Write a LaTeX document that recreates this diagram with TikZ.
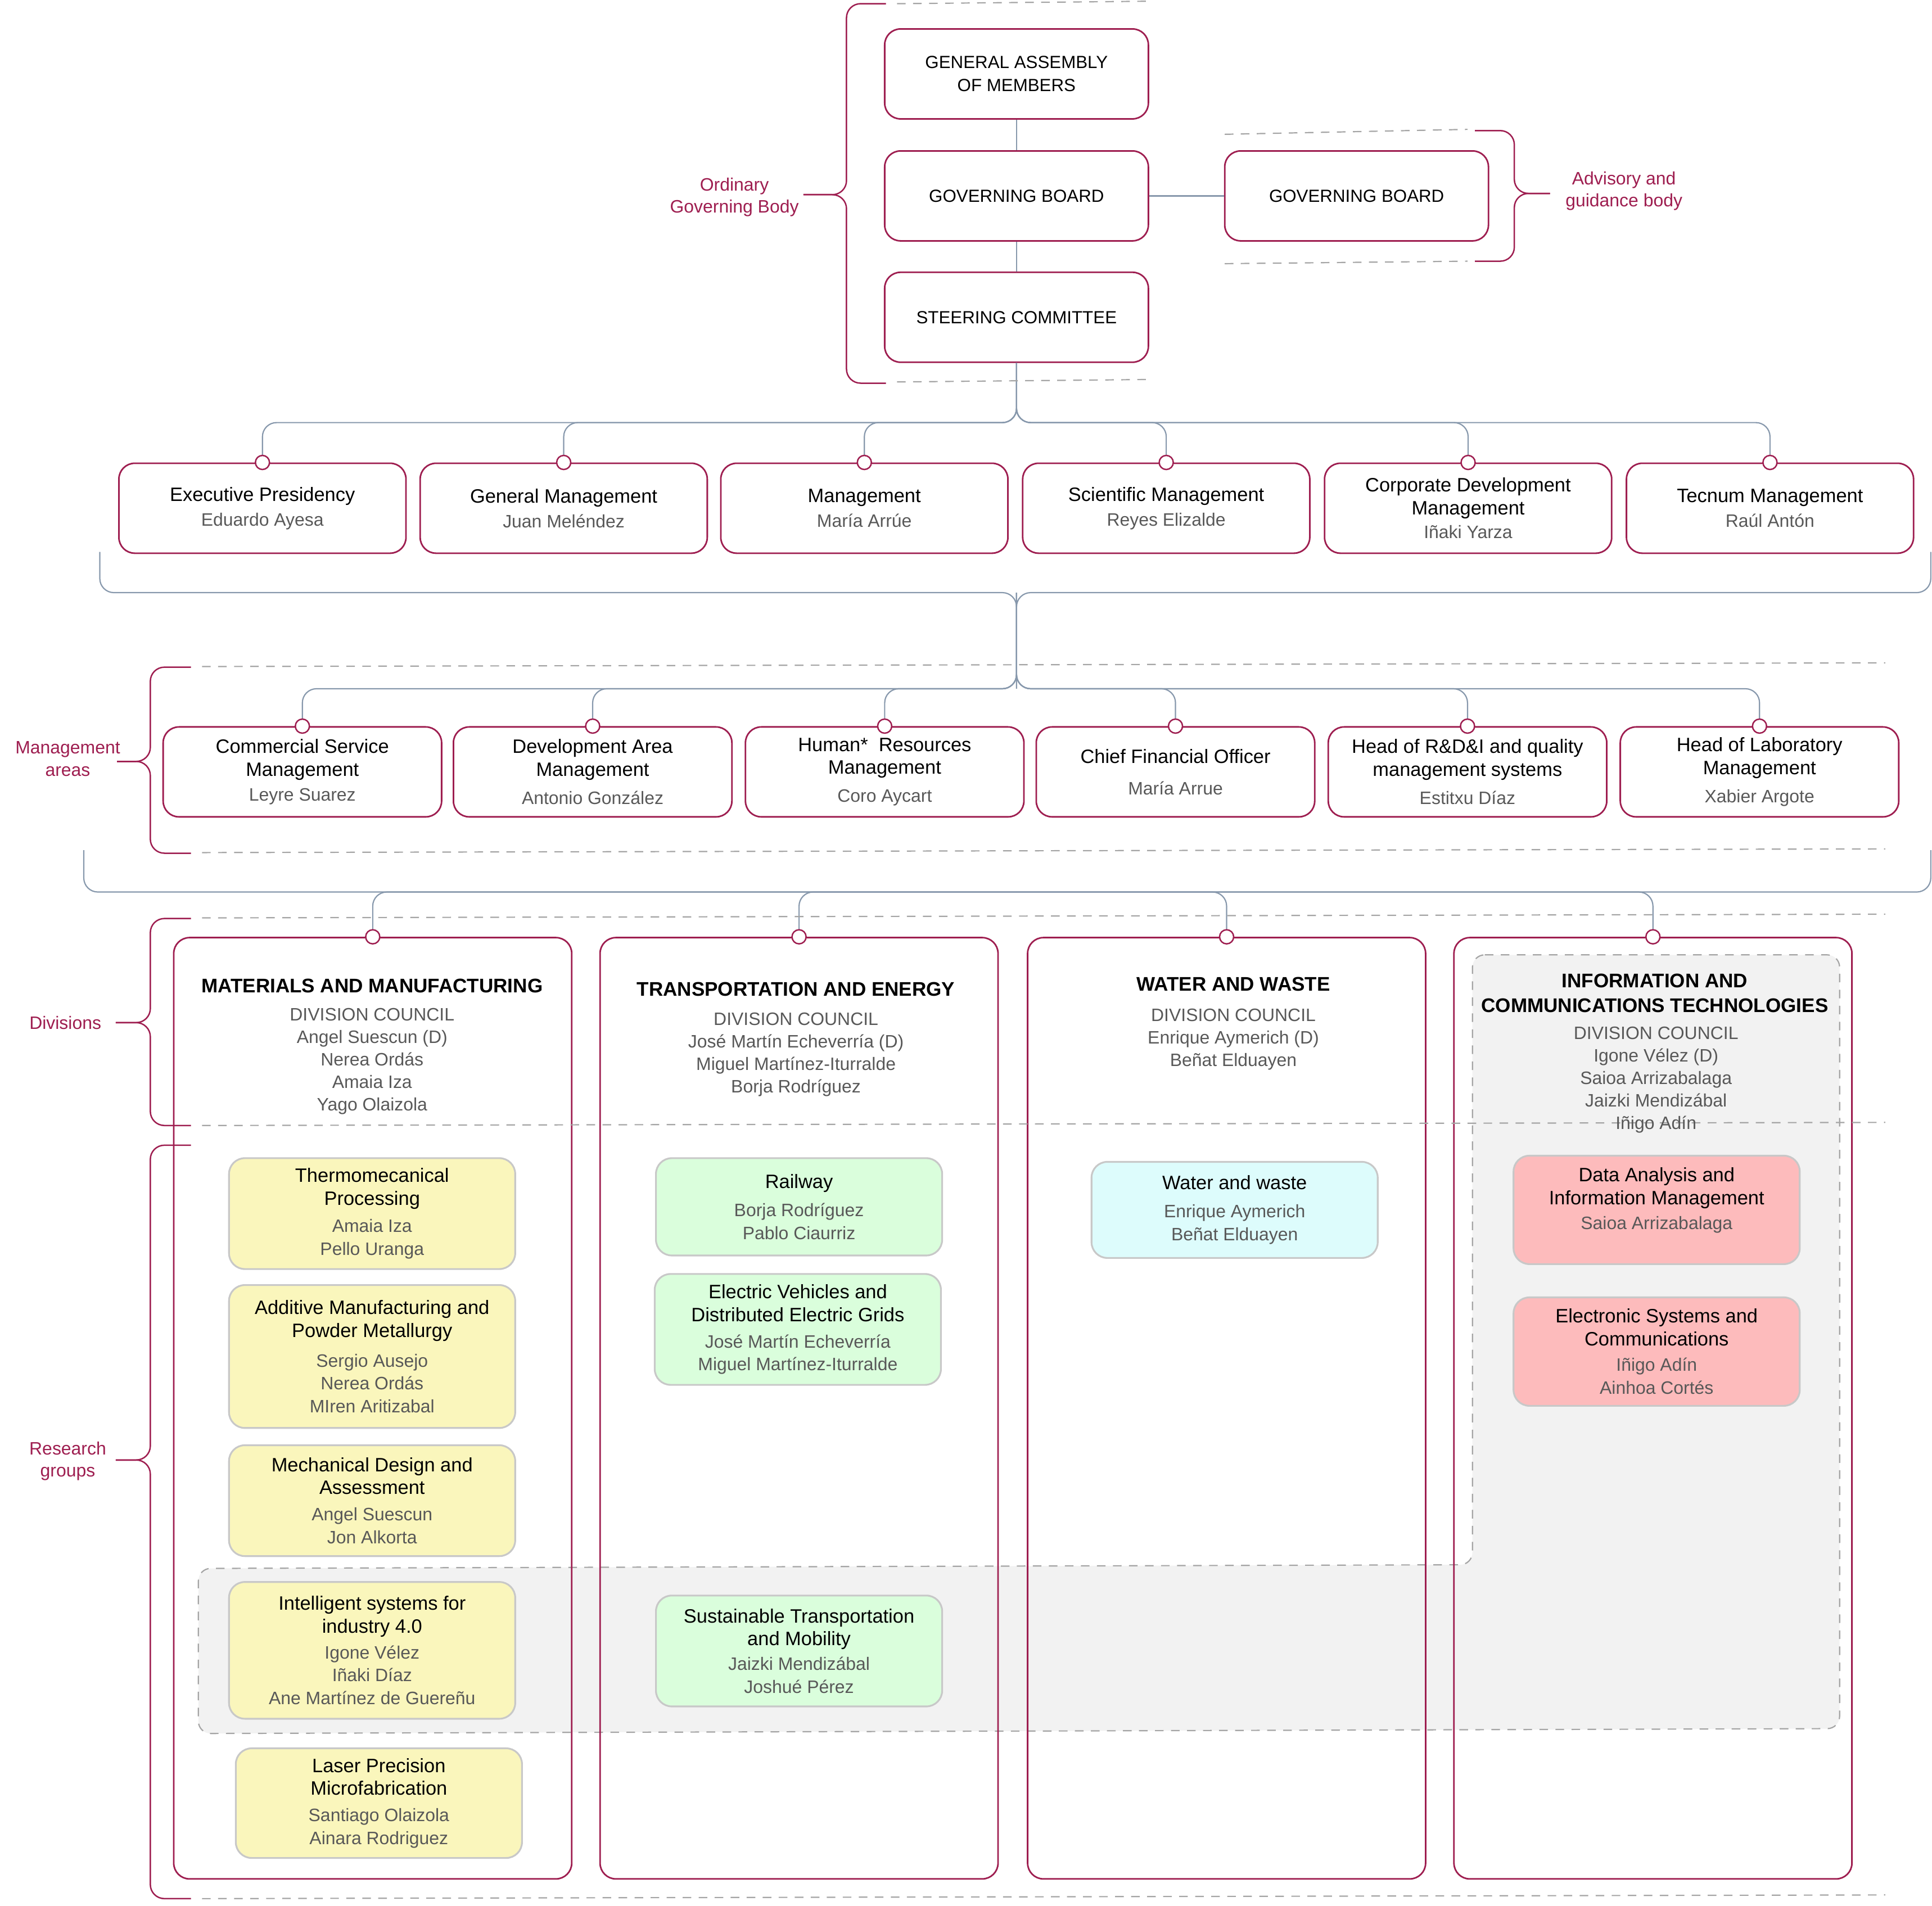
\documentclass[tikz,border=0pt]{standalone}
\usepackage{fontspec}
\setmainfont{Liberation Sans}
\usepackage{tikz}
\usetikzlibrary{positioning}

\definecolor{crimson}{RGB}{158,30,80}
\definecolor{linkgray}{RGB}{135,152,172}
\definecolor{dashgray}{RGB}{165,165,165}
\definecolor{namegray}{RGB}{88,88,88}
\definecolor{boxedge}{RGB}{200,200,200}
\definecolor{mmyellow}{RGB}{250,246,188}
\definecolor{tegreen}{RGB}{218,254,220}
\definecolor{wwcyan}{RGB}{221,252,252}
\definecolor{ictpink}{RGB}{253,187,188}
\definecolor{ictgray}{RGB}{242,242,242}

% names under a title (one per line)
\newcommand{\nm}{\fontsize{10.2}{13}\selectfont\color{namegray}}
% side brace: spine x, arm end x, tip end x, top y, bottom y, tip y
\newcommand{\sidebrace}[6]{%
\draw[Bracket] (#2,#4) -- (#1,#4) -- (#1,#6) -- (#3,#6);
\draw[Bracket] (#2,#5) -- (#1,#5) -- (#1,#6) -- (#3,#6);
}

\begin{document}
\begin{tikzpicture}[
x=0.7pt, y=-0.7pt,
every node/.style={align=center, inner sep=0pt, font=\fontsize{11}{13}\selectfont},
Box/.style={draw=crimson, line width=0.9pt, rounded corners=9pt},
Gov/.style={Box, minimum width=149.8pt, minimum height=51.1pt, font=\fontsize{10}{13}\selectfont},
Mgmt/.style={Box, minimum width=163.1pt, minimum height=51.1pt},
Area/.style={Box, minimum width=158.2pt, minimum height=51.1pt},
Frame/.style={Box, minimum width=226.1pt, minimum height=534.8pt},
Group/.style={draw=boxedge, line width=1pt, rounded corners=9pt, minimum width=162.6pt},
DivTitle/.style={font=\fontsize{11.2}{14}\selectfont\bfseries},
Council/.style={text=namegray, font=\fontsize{10.2}{12.8}\selectfont},
Side/.style={text=crimson, font=\fontsize{10.2}{12.6}\selectfont},
Marker/.style={circle, draw=crimson, fill=white, line width=0.8pt, minimum size=8pt},
Link/.style={draw=linkgray, line width=0.7pt, rounded corners=8pt},
Guide/.style={draw=dashgray, line width=0.7pt, dash pattern=on 4.9pt off 4.2pt},
Bracket/.style={draw=crimson, line width=0.8pt, rounded corners=8pt}
]
\useasboundingbox (0,0) rectangle (1568,1547);

% shared grey band (ICT + industry 4.0)
\path[Guide, fill=ictgray, rounded corners=7pt] (1195,775) -- (1493,775) -- (1493,1403)
  -- (161,1407) -- (161,1273) -- (1195,1270) -- cycle;

% division frames
\node[Frame] (mm) at (302.5,1143) {};
\node[Frame] (te) at (648.5,1143) {};
\node[Frame] (ww) at (995.5,1143) {};
\node[Frame] (ict) at (1341.5,1143) {};

% governing bodies
\node[Gov] (ga) at (825,60) {GENERAL ASSEMBLY\\OF MEMBERS};
\node[Gov] (gb) at (825,159) {GOVERNING BOARD};
\node[Gov] (sc) at (825,257.5) {STEERING COMMITTEE};
\node[Gov] (adv) at (1101,159) {GOVERNING BOARD};

% management
\node[Mgmt] (ep) at (213,412.5) {Executive Presidency\\[1pt]\nm Eduardo Ayesa};
\node[Mgmt] (gm) at (457.5,412.5) {General Management\\[1pt]\nm Juan Meléndez};
\node[Mgmt] (mg) at (701.5,412.5) {Management\\[1pt]\nm María Arrúe};
\node[Mgmt] (sm) at (946.5,412.5) {Scientific Management\\[1pt]\nm Reyes Elizalde};
\node[Mgmt] (cd) at (1191.5,412.5) {Corporate Development\\Management\\[0.5pt]\nm Iñaki Yarza};
\node[Mgmt] (tm) at (1436.5,412.5) {Tecnum Management\\[1pt]\nm Raúl Antón};

% management areas
\node[Area] (cs) at (245.4,626.5) {Commercial Service\\Management\\[1pt]\nm Leyre Suarez};
\node[Area] (da) at (481,626.5) {Development Area\\Management\\[3pt]\nm Antonio González};
\node[Area] (hr) at (718,626.5) {Human*\ \ Resources\\Management\\[3pt]\nm Coro Aycart};
\node[Area] (cf) at (954,626.5) {Chief Financial Officer\\[5pt]\nm María Arrue};
\node[Area] (rd) at (1191,626.5) {Head of R\&D\&I and quality\\management systems\\[3pt]\nm Estitxu Díaz};
\node[Area] (hl) at (1428,626.5) {Head of Laboratory\\Management\\[3pt]\nm Xabier Argote};

% connectors
\coordinate (bar1) at (825,343);
\coordinate (hub1) at (825,481);
\coordinate (bar2) at (825,559);
\coordinate (hub2) at (825,724);
\draw[Link] (ga) -- (gb);
\draw[Link] (gb) -- (sc);
\draw[Link, line width=1.2pt] (gb) -- (adv);
\foreach \n in {ep,gm,mg,sm,cd,tm}
  \draw[Link] (sc.south) -- (bar1) -- (\n.north |- bar1) -- (\n.north);
\draw[Link] (81,448) |- (hub1) -- (bar2);
\draw[Link] (1567,448) |- (hub1) -- (bar2);
\foreach \n in {cs,da,hr,cf,rd,hl}
  \draw[Link] (hub1) -- (bar2) -- (\n.north |- bar2) -- (\n.north);
\draw[Link] (68,690) |- (hub2) -| (1567,690);
\foreach \n in {mm,te,ww,ict}
  \draw[Link] (hub2) -- (\n.north |- hub2) -- (\n.north);
\foreach \n in {ep,gm,mg,sm,cd,tm,cs,da,hr,cf,rd,hl,mm,te,ww,ict}
  \node[Marker] (pin-\n) at (\n.north) {};

% dashed guides
\draw[Guide] (728,3) -- (933,1);
\draw[Guide] (728,310) -- (933,308);
\draw[Guide] (994,109) -- (1191,105);
\draw[Guide] (994,214) -- (1191,212);
\draw[Guide] (164,541) -- (1530,538);
\draw[Guide] (164,692) -- (1530,689);
\draw[Guide] (164,745) -- (1530,742);
\draw[Guide] (164,913.5) -- (1530,911);
\draw[Guide] (164,1541) -- (1530,1538);

% braces
\sidebrace{687}{719}{652}{3}{311}{158}
\sidebrace{1229}{1197}{1258}{106}{212}{157}
\sidebrace{122}{155}{95}{541.5}{692.5}{618}
\sidebrace{122}{155}{94}{745.5}{913.5}{830}
\sidebrace{122}{155}{94}{929.5}{1541}{1185}
\node[Side] (ordlbl) at (596,160) {Ordinary\\Governing Body};
\node[Side] (advlbl) at (1318,155) {Advisory and\\guidance body};
\node[Side] (mgtlbl) at (55,616) {Management\\areas};
\node[Side] (divlbl) at (53,830) {Divisions};
\node[Side] (reslbl) at (55,1186) {Research\\groups};

% division councils
\node[DivTitle] (mmtitle) at (302,800) {MATERIALS AND MANUFACTURING};
\node[Council] (mmcouncil) at (302,861.5) {DIVISION COUNCIL\\Angel Suescun (D)\\Nerea Ordás\\Amaia Iza\\Yago Olaizola};
\node[DivTitle] (tetitle) at (646,803) {TRANSPORTATION AND ENERGY};
\node[Council] (tecouncil) at (646,856) {DIVISION COUNCIL\\José Martín Echeverría (D)\\Miguel Martínez-Iturralde\\Borja Rodríguez};
\node[DivTitle] (wwtitle) at (1001,799) {WATER AND WASTE};
\node[Council] (wwcouncil) at (1001,843.5) {DIVISION COUNCIL\\Enrique Aymerich (D)\\Beñat Elduayen};
\node[DivTitle] (icttitle) at (1343,806) {INFORMATION AND\\COMMUNICATIONS TECHNOLOGIES};
\node[Council] (ictcouncil) at (1344,876.5) {DIVISION COUNCIL\\Igone Vélez (D)\\Saioa Arrizabalaga\\Jaizki Mendizábal\\Iñigo Adín};

% research groups
\node[Group, fill=mmyellow, minimum height=63pt] (thermo) at (302,985)
  {Thermomecanical\\Processing\\[2.5pt]\nm Amaia Iza\\\nm Pello Uranga};
\node[Group, fill=mmyellow, minimum height=81.2pt] (additive) at (302,1101)
  {Additive Manufacturing and\\Powder Metallurgy\\[4pt]\nm Sergio Ausejo\\\nm Nerea Ordás\\\nm MIren Aritizabal};
\node[Group, fill=mmyellow, minimum height=63pt] (mech) at (302,1218)
  {Mechanical Design and\\Assessment\\[2pt]\nm Angel Suescun\\\nm Jon Alkorta};
\node[Group, fill=mmyellow, minimum height=77.7pt] (intel) at (302,1339.5)
  {Intelligent systems for\\industry 4.0\\[1.5pt]\nm Igone Vélez\\\nm Iñaki Díaz\\\nm Ane Martínez de Guereñu};
\node[Group, fill=mmyellow, minimum height=62.3pt] (laser) at (307.5,1463.5)
  {Laser Precision\\Microfabrication\\[2pt]\nm Santiago Olaizola\\\nm Ainara Rodriguez};
\node[Group, fill=tegreen, minimum height=55.3pt] (railway) at (648.5,979.5)
  {Railway\\[3pt]\nm Borja Rodríguez\\\nm Pablo Ciaurriz};
\node[Group, fill=tegreen, minimum height=63pt] (evgrid) at (647.5,1079)
  {Electric Vehicles and\\Distributed Electric Grids\\[2pt]\nm José Martín Echeverría\\\nm Miguel Martínez-Iturralde};
\node[Group, fill=tegreen, minimum height=63pt] (sustain) at (648.5,1340)
  {Sustainable Transportation\\and Mobility\\[1pt]\nm Jaizki Mendizábal\\\nm Joshué Pérez};
\node[Group, fill=wwcyan, minimum height=54.6pt] (water) at (1002,982)
  {Water and waste\\[3pt]\nm Enrique Aymerich\\\nm Beñat Elduayen};
\node[Group, fill=ictpink, minimum height=61.6pt] (dataan) at (1344.5,982)
  {Data Analysis and\\Information Management\\[1pt]\nm Saioa Arrizabalaga\\ \mbox{}};
\node[Group, fill=ictpink, minimum height=61.6pt] (elec) at (1344.5,1097)
  {Electronic Systems and\\Communications\\[1.5pt]\nm Iñigo Adín\\\nm Ainhoa Cortés};

\end{tikzpicture}
\end{document}
